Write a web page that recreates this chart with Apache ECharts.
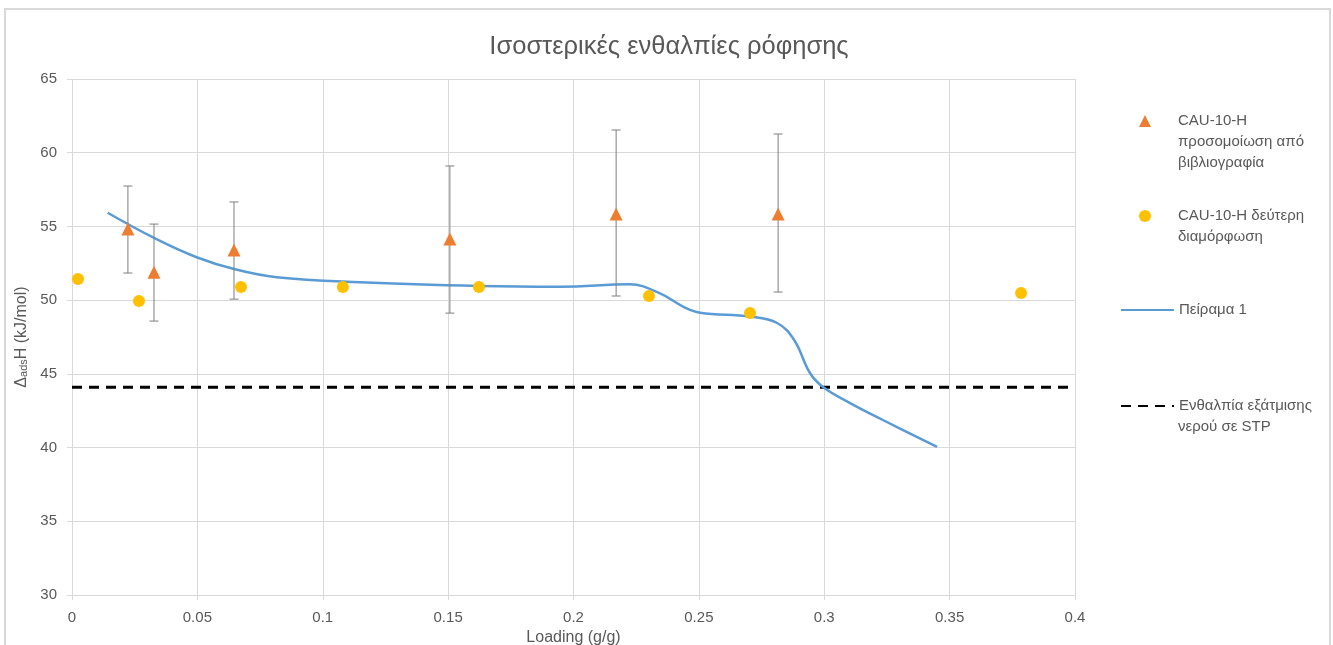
<!DOCTYPE html>
<html>
<head>
<meta charset="utf-8">
<title>Ισοστερικές ενθαλπίες ρόφησης</title>
<script src="https://cdn.jsdelivr.net/npm/echarts@6/dist/echarts.min.js"></script>
<style>
  html, body { margin: 0; padding: 0; background: #ffffff; overflow: hidden; }
  #chart { width: 1333px; height: 645px; }
</style>
</head>
<body>
<div id="chart"></div>
<script>
// Simulated isosteric enthalpies (literature) with error bars
const simLoading = [0.0223, 0.0327, 0.0646, 0.1507, 0.2170, 0.2816];
const simValue   = [54.82, 51.90, 53.40, 54.15, 55.84, 55.84];
const simLow     = [51.84, 48.58, 50.07, 49.12, 50.28, 50.55];
const simHigh    = [57.74, 55.16, 56.66, 59.10, 61.54, 61.27];

// Second configuration points
const cfgLoading = [0.0024, 0.0267, 0.0674, 0.1080, 0.1623, 0.2301, 0.2704, 0.3785];
const cfgValue   = [51.43, 49.94, 50.89, 50.89, 50.89, 50.28, 49.12, 50.48];

// Experiment 1 curve
const expLoading = [0.0142, 0.0331, 0.0497, 0.0650, 0.0816, 0.1149, 0.1627, 0.1950,
                    0.2225, 0.2345, 0.2437, 0.2505, 0.2704, 0.2812, 0.2880, 0.2943,
                    0.2995, 0.3103, 0.3234, 0.3450];
const expValue   = [55.93, 54.19, 52.91, 52.09, 51.55, 51.21, 50.96, 50.91,
                    51.07, 50.46, 49.56, 49.15, 48.88, 48.45, 47.30, 45.06,
                    44.11, 43.02, 41.87, 40.04];

// Water vaporisation enthalpy at STP (horizontal reference)
const vapRange = [0, 0.4];
const vapValue = 44.1;

const xTicks = ['0', '0.05', '0.1', '0.15', '0.2', '0.25', '0.3', '0.35', '0.4'];

const names = {
  sim: 'CAU-10-H\nπροσομοίωση από\nβιβλιογραφία',
  cfg: 'CAU-10-H δεύτερη\nδιαμόρφωση',
  exp: 'Πείραμα 1',
  vap: 'Ενθαλπία εξάτμισης\nνερού σε STP'
};

const FONT = '"Liberation Sans", "Open Sans", sans-serif';
const TXT = '#595959';
const GRID = '#D9D9D9';
const LEG_FS = 15;
const LEG_LH = 21;
const LEG_TEXT_X = 1178;

const chart = echarts.init(document.getElementById('chart'), null, { renderer: 'canvas' });

// one legend block per series; only the first line sits next to the key,
// the remaining lines are added as plain text underneath
function legendAt(name, centerY, opts) {
  return Object.assign({
    data: [name],
    orient: 'vertical',
    top: centerY - LEG_LH / 2 - 5,
    itemGap: 0,
    selectedMode: false,
    formatter: n => n.split('\n')[0],
    textStyle: { color: TXT, fontSize: LEG_FS, fontFamily: FONT, lineHeight: LEG_LH }
  }, opts);
}

function legendTail(name, centerY) {
  return name.split('\n').slice(1).map((line, i) => ({
    type: 'text',
    left: LEG_TEXT_X,
    top: centerY + (i + 1) * LEG_LH - LEG_LH / 2,
    style: { text: line, fill: TXT, font: LEG_FS + 'px ' + FONT, lineHeight: LEG_LH, textVerticalAlign: 'top' },
    silent: true
  }));
}

const legendY = { sim: 121, cfg: 216, exp: 310, vap: 406 };

const option = {
  animation: false,
  backgroundColor: '#ffffff',
  graphic: [{
    type: 'rect',
    shape: { x: 5, y: 9, width: 1325, height: 645 },
    style: { fill: 'none', stroke: GRID, lineWidth: 2 },
    silent: true
  }].concat(
    legendTail(names.sim, legendY.sim),
    legendTail(names.cfg, legendY.cfg),
    legendTail(names.vap, legendY.vap)
  ),
  title: {
    text: 'Ισοστερικές ενθαλπίες ρόφησης',
    left: 664,
    textAlign: 'center',
    top: 29,
    textStyle: { color: TXT, fontSize: 25.5, fontWeight: 'normal', fontFamily: FONT }
  },
  legend: [
    legendAt(names.sim, legendY.sim, { icon: 'triangle', left: 1134, itemWidth: 12, itemHeight: 12,
      textStyle: { color: TXT, fontSize: LEG_FS, fontFamily: FONT, lineHeight: LEG_LH, padding: [0, 0, 0, 22] } }),
    legendAt(names.cfg, legendY.cfg, { icon: 'circle', left: 1134, itemWidth: 12, itemHeight: 12,
      textStyle: { color: TXT, fontSize: LEG_FS, fontFamily: FONT, lineHeight: LEG_LH, padding: [0, 0, 0, 22] } }),
    legendAt(names.exp, legendY.exp, { left: 1115, itemWidth: 53, itemHeight: 14, itemStyle: { opacity: 0 } }),
    legendAt(names.vap, legendY.vap, { left: 1115, itemWidth: 53, itemHeight: 14, itemStyle: { opacity: 0 } })
  ],
  grid: { left: 72, right: 258, top: 79, bottom: 50, containLabel: false, outerBoundsMode: 'none' },
  xAxis: {
    type: 'value',
    min: 0, max: 0.4, interval: 0.05,
    name: 'Loading (g/g)',
    nameLocation: 'middle',
    nameGap: 34,
    nameTextStyle: { color: TXT, fontSize: 16, fontFamily: FONT },
    axisLine: { show: true, lineStyle: { color: GRID, width: 1 } },
    axisTick: { show: true, length: 5, lineStyle: { color: GRID } },
    axisLabel: {
      color: TXT, fontSize: 15, fontFamily: FONT, margin: 15,
      formatter: function (v) { return xTicks[Math.round(v / 0.05)]; }
    },
    splitLine: { show: true, lineStyle: { color: GRID, width: 1 } }
  },
  yAxis: {
    type: 'value',
    min: 30, max: 65, interval: 5,
    name: 'Δ{sub|ads}H (kJ/mol)',
    nameLocation: 'middle',
    nameGap: 41,
    nameRotate: 90,
    nameTextStyle: {
      color: TXT, fontSize: 16, fontFamily: FONT,
      rich: { sub: { fontSize: 11, color: TXT, fontFamily: FONT, verticalAlign: 'bottom', padding: [4, 0, 0, 0] } }
    },
    axisLine: { show: false },
    axisTick: { show: true, length: 5, lineStyle: { color: GRID } },
    axisLabel: { color: TXT, fontSize: 15, fontFamily: FONT, margin: 15 },
    splitLine: { show: true, lineStyle: { color: GRID, width: 1 } }
  },
  series: [
    {
      name: names.vap,
      type: 'line',
      data: vapRange.map(x => [x, vapValue]),
      symbol: 'none',
      lineStyle: { color: '#000000', width: 3, type: [10, 7] },
      itemStyle: { color: '#000000' },
      z: 2
    },
    {
      name: names.exp,
      type: 'line',
      data: expLoading.map((x, i) => [x, expValue[i]]),
      symbol: 'none',
      smooth: 0.4,
      lineStyle: { color: '#5B9BD5', width: 2.5 },
      itemStyle: { color: '#5B9BD5' },
      z: 3
    },
    {
      name: 'errorbars',
      type: 'custom',
      data: simLoading.map((x, i) => [x, simLow[i], simHigh[i]]),
      renderItem: function (params, api) {
        const lo = api.coord([api.value(0), api.value(1)]);
        const hi = api.coord([api.value(0), api.value(2)]);
        const half = 4.5;
        const st = { stroke: '#7F7F7F', lineWidth: 1 };
        return {
          type: 'group',
          children: [
            { type: 'line', shape: { x1: lo[0], y1: lo[1], x2: hi[0], y2: hi[1] }, style: st },
            { type: 'line', shape: { x1: lo[0] - half, y1: lo[1], x2: lo[0] + half, y2: lo[1] }, style: st },
            { type: 'line', shape: { x1: hi[0] - half, y1: hi[1], x2: hi[0] + half, y2: hi[1] }, style: st }
          ]
        };
      },
      encode: { x: 0, y: [1, 2] },
      silent: true,
      z: 4
    },
    {
      name: names.sim,
      type: 'scatter',
      data: simLoading.map((x, i) => [x, simValue[i]]),
      symbol: 'triangle',
      symbolSize: 13,
      itemStyle: { color: '#ED7D31', opacity: 1 },
      z: 5
    },
    {
      name: names.cfg,
      type: 'scatter',
      data: cfgLoading.map((x, i) => [x, cfgValue[i]]),
      symbol: 'circle',
      symbolSize: 12,
      itemStyle: { color: '#FFC000', opacity: 1 },
      z: 5
    }
  ]
};

chart.setOption(option);
</script>
</body>
</html>
